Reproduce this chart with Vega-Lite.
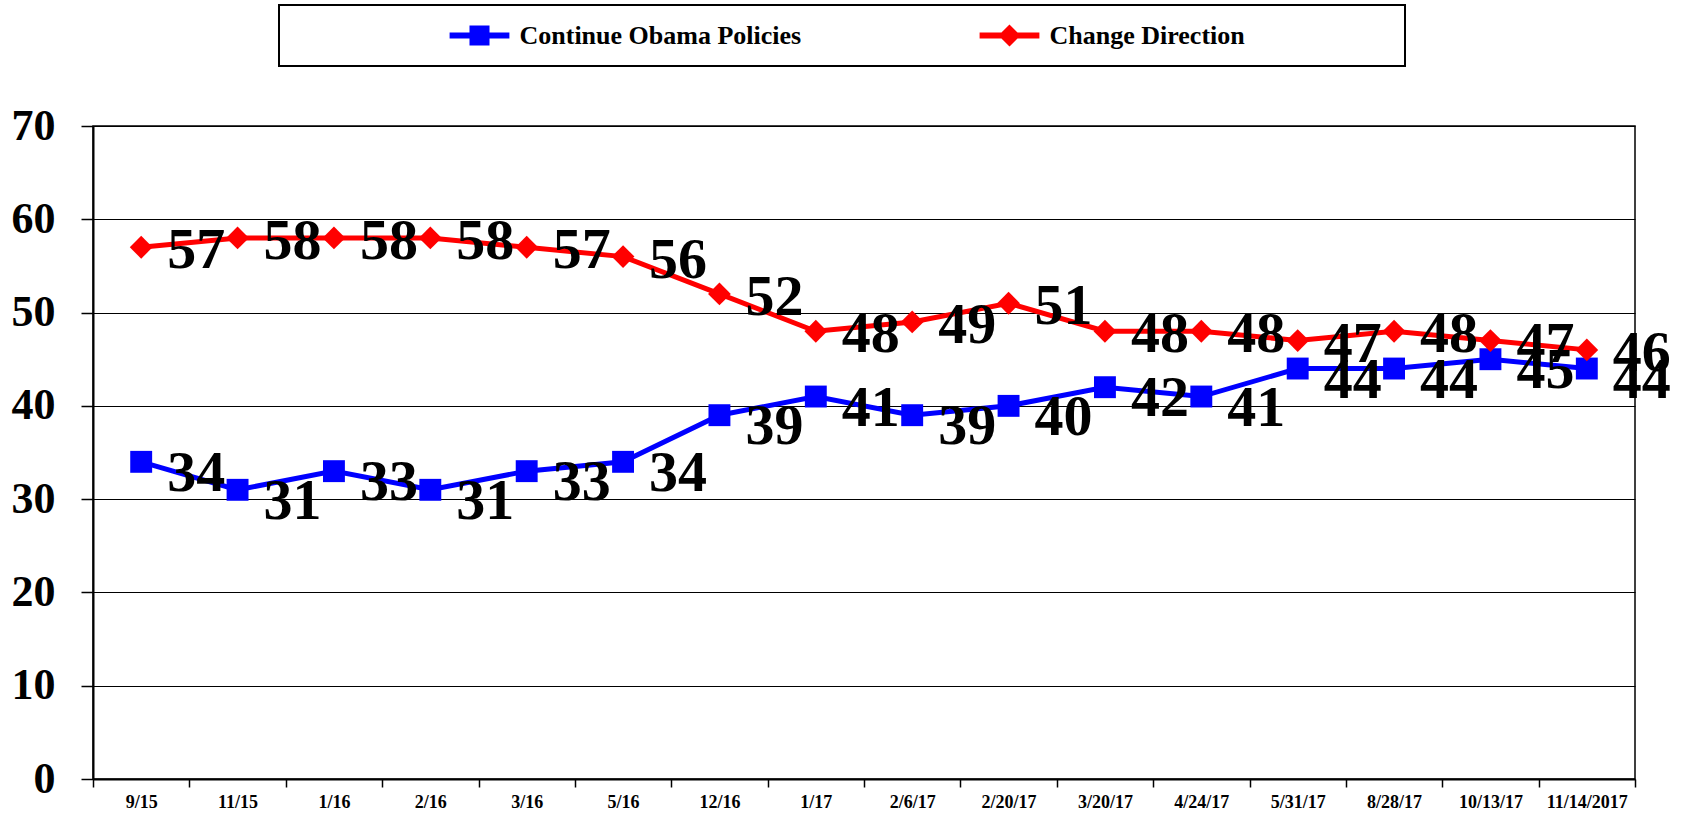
{
  "$schema": "https://vega.github.io/schema/vega-lite/v6.json",
  "width": 1542,
  "height": 653,
  "autosize": "none",
  "padding": {"left": 93, "top": 126, "right": 46, "bottom": 39},
  "background": "white",
  "data": {
    "values": [
      {"date": "9/15", "series": "Continue Obama Policies", "value": 34},
      {"date": "11/15", "series": "Continue Obama Policies", "value": 31},
      {"date": "1/16", "series": "Continue Obama Policies", "value": 33},
      {"date": "2/16", "series": "Continue Obama Policies", "value": 31},
      {"date": "3/16", "series": "Continue Obama Policies", "value": 33},
      {"date": "5/16", "series": "Continue Obama Policies", "value": 34},
      {"date": "12/16", "series": "Continue Obama Policies", "value": 39},
      {"date": "1/17", "series": "Continue Obama Policies", "value": 41},
      {"date": "2/6/17", "series": "Continue Obama Policies", "value": 39},
      {"date": "2/20/17", "series": "Continue Obama Policies", "value": 40},
      {"date": "3/20/17", "series": "Continue Obama Policies", "value": 42},
      {"date": "4/24/17", "series": "Continue Obama Policies", "value": 41},
      {"date": "5/31/17", "series": "Continue Obama Policies", "value": 44},
      {"date": "8/28/17", "series": "Continue Obama Policies", "value": 44},
      {"date": "10/13/17", "series": "Continue Obama Policies", "value": 45},
      {"date": "11/14/2017", "series": "Continue Obama Policies", "value": 44},
      {"date": "9/15", "series": "Change Direction", "value": 57},
      {"date": "11/15", "series": "Change Direction", "value": 58},
      {"date": "1/16", "series": "Change Direction", "value": 58},
      {"date": "2/16", "series": "Change Direction", "value": 58},
      {"date": "3/16", "series": "Change Direction", "value": 57},
      {"date": "5/16", "series": "Change Direction", "value": 56},
      {"date": "12/16", "series": "Change Direction", "value": 52},
      {"date": "1/17", "series": "Change Direction", "value": 48},
      {"date": "2/6/17", "series": "Change Direction", "value": 49},
      {"date": "2/20/17", "series": "Change Direction", "value": 51},
      {"date": "3/20/17", "series": "Change Direction", "value": 48},
      {"date": "4/24/17", "series": "Change Direction", "value": 48},
      {"date": "5/31/17", "series": "Change Direction", "value": 47},
      {"date": "8/28/17", "series": "Change Direction", "value": 48},
      {"date": "10/13/17", "series": "Change Direction", "value": 47},
      {"date": "11/14/2017", "series": "Change Direction", "value": 46}
    ]
  },
  "encoding": {
    "x": {
      "field": "date",
      "type": "nominal",
      "sort": null,
      "scale": {"type": "band", "paddingInner": 0, "paddingOuter": 0},
      "axis": {
        "title": null,
        "labelAngle": 0,
        "tickBand": "extent",
        "grid": false,
        "tickSize": 8,
        "tickWidth": 1.5,
        "tickColor": "black",
        "domainColor": "black",
        "domainWidth": 2,
        "labelPadding": 6,
        "labelFont": "Liberation Serif",
        "labelFontWeight": "bold",
        "labelFontSize": 18,
        "labelColor": "black"
      }
    },
    "y": {
      "field": "value",
      "type": "quantitative",
      "scale": {"domain": [0, 70], "nice": false},
      "axis": {
        "title": null,
        "values": [0, 10, 20, 30, 40, 50, 60, 70],
        "grid": true,
        "gridColor": "black",
        "gridWidth": 1,
        "gridOpacity": 1,
        "tickSize": 12,
        "tickWidth": 1.5,
        "tickColor": "black",
        "domainColor": "black",
        "domainWidth": 2,
        "labelPadding": 26,
        "labelFont": "Liberation Serif",
        "labelFontWeight": "bold",
        "labelFontSize": 44,
        "labelColor": "black"
      }
    }
  },
  "layer": [
    {
      "mark": {"type": "line", "strokeWidth": 5},
      "encoding": {
        "color": {
          "field": "series",
          "type": "nominal",
          "scale": {"domain": ["Continue Obama Policies", "Change Direction"], "range": ["#0000FF", "#FF0000"]},
          "legend": {
            "title": "\u00a0",
            "titleOrient": "left",
            "titlePadding": 170,
            "titleFontSize": 10,
            "orient": "none",
            "legendX": 186,
            "legendY": -121,
            "direction": "horizontal",
            "columns": 2,
            "columnPadding": 178,
            "padding": 17.5,
            "strokeColor": "black",
            "fillColor": "white",
            "symbolSize": 676,
            "labelOffset": 27,
            "labelLimit": 2000,
            "labelFont": "Liberation Serif",
            "labelFontWeight": "bold",
            "labelFontSize": 26,
            "labelColor": "black",
            "encode": {
              "legend": {
                "update": {
                  "strokeWidth": {"value": 2}
                }
              },
              "labels": {
                "update": {
                  "text": {"signal": "datum.label == 'Change Direction' ? 'Change Direction\u00a0\u00a0\u00a0\u00a0\u00a0\u00a0\u00a0\u00a0\u00a0\u00a0\u00a0\u00a0\u00a0\u00a0\u00a0\u00a0\u00a0\u00a0\u00a0\u2800' : datum.label"}
                }
              },
              "symbols": {
                "update": {
                  "shape": {"signal": "datum.value == 'Continue Obama Policies' ? 'M-2.3,-0.23L2.3,-0.23L2.3,0.23L-2.3,0.23Z M-0.77,-0.77L0.77,-0.77L0.77,0.77L-0.77,0.77Z' : 'M-2.3,-0.23L2.3,-0.23L2.3,0.23L-2.3,0.23Z M0,-0.85L0.85,0L0,0.85L-0.85,0Z'"},
                  "fill": {"signal": "datum.value == 'Continue Obama Policies' ? '#0000FF' : '#FF0000'"},
                  "fillOpacity": {"value": 1},
                  "strokeWidth": {"value": 0},
                  "opacity": {"value": 1}
                }
              }
            }
          }
        }
      }
    },
    {
      "transform": [{"filter": "datum.series == 'Continue Obama Policies'"}],
      "mark": {"type": "point", "shape": "square", "filled": true, "opacity": 1, "color": "#0000FF", "size": 480}
    },
    {
      "transform": [{"filter": "datum.series == 'Change Direction'"}],
      "mark": {"type": "point", "shape": "diamond", "filled": true, "opacity": 1, "color": "#FF0000", "size": 520}
    },
    {
      "transform": [{"filter": "datum.series == 'Change Direction'"}],
      "mark": {
        "type": "text",
        "align": "left",
        "baseline": "middle",
        "dx": 26,
        "dy": 4,
        "font": "Liberation Serif",
        "fontWeight": "bold",
        "fontSize": 58,
        "color": "black"
      },
      "encoding": {
        "text": {"field": "value", "type": "quantitative"}
      }
    },
    {
      "transform": [{"filter": "datum.series == 'Continue Obama Policies'"}],
      "mark": {
        "type": "text",
        "align": "left",
        "baseline": "middle",
        "dx": 26,
        "dy": 12,
        "font": "Liberation Serif",
        "fontWeight": "bold",
        "fontSize": 58,
        "color": "black"
      },
      "encoding": {
        "text": {"field": "value", "type": "quantitative"}
      }
    }
  ],
  "config": {
    "view": {"stroke": "black", "strokeWidth": 1.5}
  }
}
